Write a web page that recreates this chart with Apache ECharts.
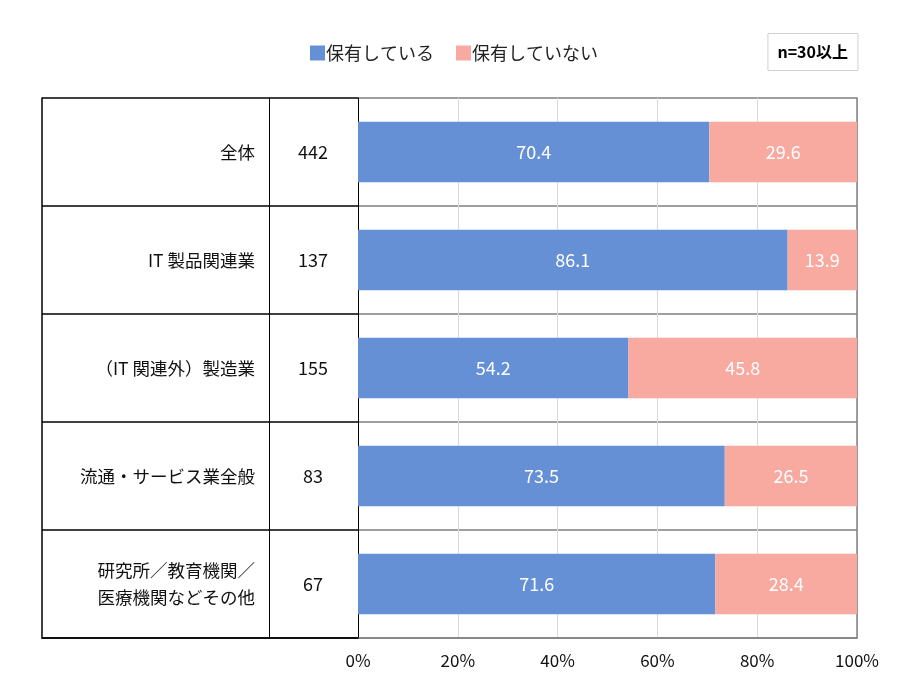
<!DOCTYPE html>
<html>
<head>
<meta charset="utf-8">
<script src="https://cdn.jsdelivr.net/npm/echarts@6/dist/echarts.min.js"></script>
<style>
  html, body { margin: 0; padding: 0; background: #fff; }
  #main { width: 900px; height: 700px; }
</style>
</head>
<body>
<div id="main"></div>
<script>
// データ
var categories = ['全体', 'IT 製品関連業', '（IT 関連外）製造業', '流通・サービス業全般', '研究所／教育機関／\n医療機関などその他'];
var counts = ['442', '137', '155', '83', '67'];
var holding = [70.4, 86.1, 54.2, 73.5, 71.6];
var notHolding = [29.6, 13.9, 45.8, 26.5, 28.4];
var seriesNames = ['保有している', '保有していない'];
var tickValues = [0, 20, 40, 60, 80, 100];

var FONT = '"Noto Sans CJK JP", "Noto Sans", sans-serif';

var myChart = echarts.init(document.getElementById('main'));

var option = {
  textStyle: { fontFamily: FONT },
  animation: false,
  title: {
    text: 'n=30以上',
    right: 42,
    top: 33,
    padding: [11, 10, 11, 10],
    borderColor: '#d0d0d0',
    borderWidth: 1,
    textStyle: { fontFamily: FONT, fontSize: 16, fontWeight: 'bold', color: '#000' }
  },
  legend: {
    data: seriesNames,
    left: 305,
    top: 39,
    itemWidth: 15,
    itemHeight: 15,
    itemGap: 22,
    icon: 'rect',
    textStyle: { fontFamily: FONT, fontSize: 18, color: '#222', padding: [0, 0, 0, -4] }
  },
  grid: [
    { left: 358, right: 43, top: 98, bottom: 62 },
    { left: 42, right: 542, top: 98, bottom: 62 }
  ],
  xAxis: [
    {
      gridIndex: 0,
      type: 'value',
      min: 0,
      max: 100,
      interval: 20,
      axisLine: { show: true, lineStyle: { color: '#808080', width: 1.5 } },
      axisTick: { show: false },
      axisLabel: {
        margin: 14,
        fontSize: 17,
        color: '#111',
        formatter: function (v) { return tickValues.indexOf(v) >= 0 ? v + '%' : ''; }
      },
      splitLine: { show: true, lineStyle: { color: '#d9d9d9' } }
    },
    {
      gridIndex: 1,
      type: 'value',
      min: 0,
      max: 1,
      axisLine: { show: true, onZero: false, lineStyle: { color: '#000', width: 1.5 } },
      axisTick: { show: false },
      axisLabel: { show: false },
      splitLine: { show: false }
    }
  ],
  yAxis: [
    {
      // 件数列
      gridIndex: 0,
      type: 'category',
      inverse: true,
      data: counts,
      axisLine: { show: true, lineStyle: { color: '#000' } },
      axisTick: { show: false },
      axisLabel: { margin: 45, align: 'center', fontSize: 18, color: '#111' },
      splitLine: { show: true, lineStyle: { color: '#808080', width: 1.5 } }
    },
    {
      // 分類列
      gridIndex: 0,
      type: 'category',
      inverse: true,
      position: 'left',
      offset: 89,
      data: categories,
      axisLine: { show: true, lineStyle: { color: '#000' } },
      axisTick: { show: false },
      axisLabel: { margin: 14, align: 'right', fontSize: 17.5, lineHeight: 27, color: '#111' },
      splitLine: { show: false }
    },
    {
      // 右枠
      gridIndex: 0,
      type: 'category',
      inverse: true,
      position: 'right',
      data: categories,
      axisLine: { show: true, lineStyle: { color: '#808080', width: 1.5 } },
      axisTick: { show: false },
      axisLabel: { show: false },
      splitLine: { show: false }
    },
    {
      // 表の罫線
      gridIndex: 1,
      type: 'category',
      inverse: true,
      data: categories,
      axisLine: { show: true, lineStyle: { color: '#000', width: 1.5 } },
      axisTick: { show: false },
      axisLabel: { show: false },
      splitLine: { show: true, lineStyle: { color: '#000', width: 1.5 } }
    }
  ],
  series: [
    {
      name: seriesNames[0],
      type: 'bar',
      stack: 'total',
      xAxisIndex: 0,
      yAxisIndex: 0,
      barWidth: '56%',
      itemStyle: { color: '#6690D5' },
      label: { show: true, position: 'inside', color: '#fff', fontSize: 18, fontFamily: FONT },
      data: holding
    },
    {
      name: seriesNames[1],
      type: 'bar',
      stack: 'total',
      xAxisIndex: 0,
      yAxisIndex: 0,
      barWidth: '56%',
      itemStyle: { color: '#F8A9A0' },
      label: { show: true, position: 'inside', color: '#fff', fontSize: 18, fontFamily: FONT },
      data: notHolding
    }
  ]
};

myChart.setOption(option);
</script>
</body>
</html>
